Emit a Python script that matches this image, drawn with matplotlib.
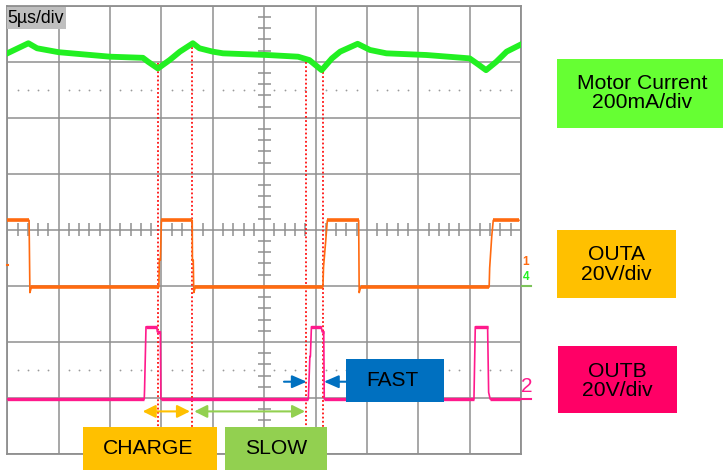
import numpy as np
import matplotlib
matplotlib.use("Agg")
import matplotlib.pyplot as plt
from matplotlib.patches import Rectangle

plt.rcParams['font.family'] = ['Liberation Sans', 'DejaVu Sans']

# time in us (5 us/div, 10 div), level in divisions (center = 0)
cur_t = [0, 2.05, 2.9, 5.0, 10.0, 13.2, 13.7, 14.66, 15.8, 16.8, 18.06, 18.7, 20.0, 21.0,
         25.3, 28.3, 29.4, 30.6, 31.6, 32.4, 34.1, 35.3, 36.9, 40.8, 45.0, 45.7, 46.6,
         47.6, 48.6, 49.9]
cur_v = [3.15, 3.33, 3.24, 3.17, 3.09, 3.07, 3.0, 2.88, 3.03, 3.18, 3.33, 3.24, 3.18, 3.15,
         3.12, 3.09, 3.03, 2.85, 3.06, 3.18, 3.32, 3.21, 3.15, 3.12, 3.06, 2.97, 2.85,
         3.0, 3.18, 3.30]

outa_t = [0, 2.12, 2.2, 2.35, 14.75, 14.8, 14.9, 15.0, 18.0, 18.02, 18.1, 18.15, 18.3,
          30.72, 30.78, 31.0, 31.15, 34.2, 34.25, 34.4, 46.9, 46.95, 47.15, 47.3, 49.8]
outa_v = [0.17, 0.17, -1.12, -1.02, -1.02, -0.54, -0.54, 0.17, 0.17, -0.54, -0.54, -1.12, -1.02,
          -1.02, -0.66, -0.18, 0.17, 0.17, -1.12, -1.02, -1.02, -0.68, -0.12, 0.17, 0.17]

outb_t = [0, 13.33, 13.36, 13.5, 14.55, 14.6, 14.9, 14.95, 29.3, 29.45, 29.5, 29.6, 30.55,
          30.65, 30.8, 30.85, 45.42, 45.55, 46.75, 46.85, 47.0, 49.9]
outb_v = [-3.02, -3.02, -2.85, -1.73, -1.73, -1.82, -1.82, -3.02, -3.02, -2.26, -2.26, -1.73, -1.73,
          -1.82, -1.82, -3.02, -3.02, -1.73, -1.73, -2.9, -3.02, -3.02]

# cursor lines (time, top level)
cursor_t = [14.64, 18.01, 29.05, 30.76]
cursor_top = [2.98, 3.33, 3.0, 2.82]

# interval arrows (start, end, level)
charge_span = (13.18, 17.78)
slow_span = (18.2, 28.98)
fast_left = (26.93, 29.14)
fast_right = (32.97, 30.82)
span_level = -3.24
fast_level = -2.71

GRID = '#8f8f8f'
GREEN = '#22f022'
ORANGE = '#ff6a10'
PINK = '#ff1a8c'


def draw_trace(ax, t, v, color, thin, thick):
    t = np.asarray(t)
    v = np.asarray(v)
    ax.plot(t, v, color=color, lw=thin, zorder=3)
    flat = np.where(v[:-1] == v[1:])[0]
    for i in flat:
        ax.plot(t[i:i + 2], v[i:i + 2], color=color, lw=thick, solid_capstyle='butt', zorder=3)


def main():
    W, H = 723, 470
    fig = plt.figure(figsize=(W / 100, H / 100), dpi=100)
    l, r, t, b = 7.3, 521.0, 5.7, 454.0
    ax = fig.add_axes([l / W, 1 - b / H, (r - l) / W, (b - t) / H])
    ax.set_xlim(0, 50)
    ax.set_ylim(-4, 4)
    ax.set_xticks(np.arange(0, 51, 5))
    ax.set_yticks(np.arange(-4, 5, 1))
    ax.grid(True, color=GRID, lw=1.1)
    ax.tick_params(length=0, labelbottom=False, labelleft=False)
    for s in ax.spines.values():
        s.set_color(GRID)
        s.set_linewidth(1.3)

    # minor ticks on center lines
    xs = np.array([x for x in np.arange(1, 50, 1.0) if x % 5 != 0])
    ax.vlines(xs, -0.116, 0.116, color=GRID, lw=1.1, zorder=1)
    ys = np.array([y for y in np.arange(-3.8, 4, 0.2) if abs(y - round(y)) > 1e-6])
    ax.hlines(ys, 25 - 0.63, 25 + 0.63, color=GRID, lw=1.1, zorder=1)

    # dotted reference lines
    for lev in (2.5, -2.5):
        ax.plot(xs, np.full_like(xs, lev), ls='none', marker='o', ms=1.3, mew=0,
                color='#9a9a9a', zorder=1)

    # red cursors
    for ct, top in zip(cursor_t, cursor_top):
        ax.plot([ct, ct], [top, -4.28], color='#ff1010', lw=1.3, ls=(0, (1, 1.3)), clip_on=False, zorder=2)

    ax.plot(cur_t, cur_v, color=GREEN, lw=4.2, zorder=3, solid_joinstyle='round')
    draw_trace(ax, outa_t, outa_v, ORANGE, 1.2, 2.6)
    draw_trace(ax, outb_t, outb_v, PINK, 1.2, 2.4)

    ax.annotate('', xy=(charge_span[1], span_level), xytext=(charge_span[0], span_level),
                arrowprops=dict(arrowstyle='<|-|>,head_length=0.7,head_width=0.35',
                                color='#ffc000', lw=1.5, mutation_scale=11, shrinkA=0, shrinkB=0))
    ax.annotate('', xy=(slow_span[1], span_level), xytext=(slow_span[0], span_level),
                arrowprops=dict(arrowstyle='<|-|>,head_length=0.7,head_width=0.35',
                                color='#92d050', lw=1.5, mutation_scale=11, shrinkA=0, shrinkB=0))
    for a, z in (fast_left, fast_right):
        ax.annotate('', xy=(z, fast_level), xytext=(a, fast_level),
                    arrowprops=dict(arrowstyle='-|>,head_length=0.8,head_width=0.35',
                                    color='#0070c0', lw=1.5, mutation_scale=11, shrinkA=0, shrinkB=0))

    # overlay in pixel units for labels and boxes
    ov = fig.add_axes([0, 0, 1, 1], zorder=5)
    ov.set_xlim(0, W)
    ov.set_ylim(H, 0)
    ov.axis('off')

    def box(x0, y0, x1, y1, color, text, fs, tx=None, ty=None):
        ov.add_patch(Rectangle((x0, y0), x1 - x0, y1 - y0, color=color, lw=0))
        ov.text((x0 + x1) / 2 if tx is None else tx, (y0 + y1) / 2 if ty is None else ty, text,
                ha='center', va='center', fontsize=fs, color='black', linespacing=1.05)

    ov.add_patch(Rectangle((6.7, 7.3), 59, 21.7, color='#bfbfbf', lw=0))
    ov.text(7.2, 18.5, '5µs/div', ha='left', va='center', fontsize=12.8, color='black')

    box(557.3, 59, 723, 128.3, '#66ff33', 'Motor Current\n200mA/div', 15.2, tx=642.5, ty=93)
    box(557.3, 230, 675.7, 297.7, '#ffc000', 'OUTA\n20V/div', 15.2, ty=264.5)
    box(558.3, 346, 676.7, 413.3, '#ff0066', 'OUTB\n20V/div', 15.2, ty=381)
    box(346, 359, 444, 402.3, '#0070c0', 'FAST', 15, tx=392.5, ty=381)
    box(82.7, 427.3, 216.7, 470, '#ffc000', 'CHARGE', 15.2, tx=148, ty=449)
    box(225, 427.3, 326.7, 470, '#92d050', 'SLOW', 15.2, tx=276, ty=449)

    # channel markers
    ov.text(526, 262, '1', ha='center', va='center', fontsize=8.5, color=ORANGE, fontweight='bold')
    ov.text(526, 277, '4', ha='center', va='center', fontsize=8.5, color=GREEN, fontweight='bold')
    ov.plot([522, 531], [286, 286], color='#7cc35a', lw=1.5)
    ov.text(527, 386, '2', ha='center', va='center', fontsize=15, color=PINK)
    ov.plot([522, 531], [399, 399], color=PINK, lw=1.5)
    ov.plot([6.5, 8], [265, 265], color=ORANGE, lw=1.5)

    fig.savefig('out.png', dpi=100)


if __name__ == "__main__":
    main()
